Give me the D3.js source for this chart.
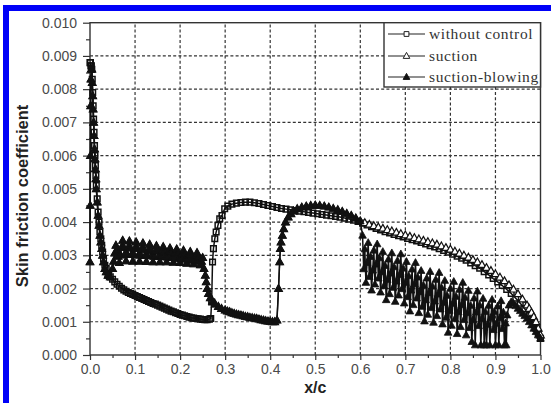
<!DOCTYPE html>
<html><head><meta charset="utf-8">
<script src="https://cdn.jsdelivr.net/npm/d3@7"></script>
<style>html,body{margin:0;padding:0;background:#fff;}svg{display:block;}</style>
</head><body>
<svg id="c" width="551" height="403"></svg>
<script>
// ---------- data (x/c, Cf) ----------
const xTickValues = [0,0.1,0.2,0.3,0.4,0.5,0.6,0.7,0.8,0.9,1.0];
const yTickValues = [0,0.001,0.002,0.003,0.004,0.005,0.006,0.007,0.008,0.009,0.010];
const seriesNames = ["without control","suction","suction-blowing"];

const withoutControl = [
[0,0.0088],[0.001,0.0088],[0.002,0.0087],[0.003,0.0087],[0.004,0.0086],[0.005,0.0083],[0.006,0.0079],[0.007,0.0075],[0.008,0.0071],[0.009,0.0067],[0.010,0.0063],[0.011,0.006],[0.012,0.0057],[0.013,0.0054],[0.014,0.0051],[0.016,0.0047],[0.018,0.0043],[0.020,0.004],[0.022,0.0037],[0.024,0.0035],[0.026,0.0033],[0.028,0.0031],[0.030,0.0029],[0.033,0.0027],[0.036,0.0026],
[0.040,0.0024],[0.045,0.00235],[0.050,0.00228],[0.055,0.0022],[0.060,0.00213],[0.065,0.00207],[0.070,0.00201],[0.075,0.00196],[0.080,0.00192],[0.085,0.00188],[0.090,0.00185],[0.095,0.00182],[0.100,0.00179],[0.105,0.00176],[0.110,0.00173],[0.115,0.0017],[0.120,0.00167],[0.125,0.00164],[0.130,0.00161],[0.135,0.00158],[0.140,0.00155],[0.145,0.00153],[0.150,0.0015],[0.155,0.00147],[0.160,0.00144],[0.165,0.00141],[0.170,0.00138],[0.175,0.00135],[0.180,0.00132],[0.185,0.0013],[0.190,0.00127],[0.195,0.00125],[0.200,0.00122],[0.205,0.0012],[0.210,0.00118],[0.215,0.00116],[0.220,0.00114],[0.225,0.00112],[0.230,0.00111],[0.235,0.0011],[0.240,0.00109],[0.245,0.00108],[0.250,0.00107],[0.255,0.00106],[0.260,0.00106],[0.265,0.00108],[0.268,0.0011],
[0.270,0.0016],[0.272,0.0028],[0.274,0.0032],[0.277,0.0035],[0.280,0.0037],[0.284,0.0039],[0.288,0.0041],[0.293,0.0042],[0.299,0.0044],[0.306,0.00448],[0.315,0.00454],[0.325,0.00457],
[0.335,0.00459],[0.345,0.0046],[0.355,0.0046],[0.365,0.00458],[0.375,0.00456],[0.385,0.00453],[0.395,0.0045],[0.405,0.00447],[0.415,0.00444],[0.425,0.00441],[0.435,0.00439],[0.445,0.00437],[0.455,0.00435],[0.465,0.00433],[0.475,0.00431],[0.485,0.00429],[0.495,0.00427],[0.505,0.00425],[0.515,0.00423],[0.525,0.00421],[0.535,0.00419],[0.545,0.00417],[0.555,0.00415],[0.565,0.00412],[0.575,0.00409],[0.585,0.00406],[0.595,0.00402],
[0.605,0.00397],[0.615,0.00391],[0.625,0.00386],[0.635,0.00381],[0.645,0.00376],[0.655,0.00371],[0.665,0.00367],[0.675,0.00363],[0.685,0.00359],[0.695,0.00355],[0.705,0.00351],[0.715,0.00347],[0.725,0.00343],[0.735,0.00339],[0.745,0.00334],[0.755,0.00329],[0.765,0.00325],[0.775,0.0032],[0.785,0.00315],[0.795,0.00309],[0.805,0.00303],[0.815,0.00297],[0.825,0.00291],[0.835,0.00285],[0.845,0.00277],[0.855,0.00269],[0.865,0.00261],[0.875,0.00251],[0.885,0.00241],[0.895,0.0023],[0.905,0.0022],[0.915,0.00209],[0.925,0.00197],[0.935,0.00185],[0.945,0.00171],[0.955,0.00156],[0.965,0.00139],[0.975,0.0012],[0.980,0.00108],[0.985,0.00095],[0.990,0.0008],[0.995,0.00065],[1.0,0.0005]
];

// part shared by "suction" and "suction-blowing" (x/c 0 .. 0.6)
const suctionCommon = [
[0,0.0028],[0.0005,0.0045],[0.001,0.006],[0.0015,0.0075],[0.002,0.0083],[0.003,0.0086],[0.004,0.0086],[0.005,0.0082],[0.006,0.0078],[0.007,0.0074],[0.008,0.007],[0.009,0.0066],[0.010,0.0062],[0.011,0.0059],[0.012,0.0056],[0.013,0.0053],[0.014,0.005],[0.016,0.0046],[0.018,0.0042],[0.020,0.0039],[0.022,0.0036],[0.024,0.0034],[0.026,0.0032],[0.028,0.003],[0.030,0.0028],[0.033,0.0026],[0.036,0.0025],[0.040,0.0024],[0.045,0.00235],
[0.0500,0.0026],[0.0525,0.00282],[0.0550,0.00307],[0.0575,0.0033],[0.0600,0.00315],[0.0625,0.00297],[0.0650,0.00278],[0.0675,0.00301],[0.0700,0.00324],[0.0725,0.00345],
[0.0750,0.00324],[0.0775,0.00304],[0.0800,0.00283],[0.0825,0.00303],[0.0850,0.00324],[0.0875,0.00343],[0.0900,0.00322],[0.0925,0.00303],[0.0950,0.00282],[0.0975,0.00302],
[0.1000,0.00321],[0.1025,0.0034],[0.1050,0.00321],[0.1075,0.00301],[0.1100,0.00282],[0.1125,0.00301],[0.1150,0.00319],[0.1175,0.00337],[0.1200,0.00318],[0.1225,0.00299],
[0.1250,0.00281],[0.1275,0.00299],[0.1300,0.00316],[0.1325,0.00333],[0.1350,0.00315],[0.1375,0.00298],[0.1400,0.0028],[0.1425,0.00297],[0.1450,0.00313],[0.1475,0.00329],
[0.1500,0.00313],[0.1525,0.00296],[0.1550,0.0028],[0.1575,0.00296],[0.1600,0.00311],[0.1625,0.00326],[0.1650,0.0031],[0.1675,0.00295],[0.1700,0.0028],[0.1725,0.00295],
[0.1750,0.00308],[0.1775,0.00322],[0.1800,0.00308],[0.1825,0.00293],[0.1850,0.00279],[0.1875,0.00293],[0.1900,0.00306],[0.1925,0.00319],[0.1950,0.00305],[0.1975,0.00291],
[0.2000,0.00278],[0.2025,0.0029],[0.2050,0.00303],[0.2075,0.00315],[0.2100,0.00302],[0.2125,0.00289],[0.2150,0.00276],[0.2175,0.00288],[0.2200,0.003],[0.2225,0.00311],
[0.2250,0.00299],[0.2275,0.00286],[0.2300,0.00274],[0.2325,0.00285],[0.2350,0.00296],[0.2375,0.00308],[0.2400,0.00295],[0.2425,0.00283],[0.2450,0.00271],[0.2475,0.00282],[0.2500,0.00293],
[0.253,0.0026],[0.256,0.0024],[0.258,0.0022],[0.260,0.002],[0.263,0.00185],[0.267,0.00172],[0.272,0.00162],[0.278,0.00153],[0.285,0.00146],[0.292,0.0014],[0.300,0.00135],[0.305,0.00132],[0.310,0.0013],[0.315,0.00127],[0.320,0.00125],[0.325,0.00123],[0.330,0.00121],[0.335,0.0012],[0.340,0.00118],[0.345,0.00116],[0.350,0.00115],[0.355,0.00113],[0.360,0.00112],[0.365,0.00111],[0.370,0.0011],[0.375,0.00108],[0.380,0.00106],[0.385,0.00105],[0.390,0.00103],[0.395,0.00102],[0.400,0.00101],[0.405,0.001],[0.410,0.001],[0.415,0.00105],
[0.4185,0.002],[0.421,0.0028],[0.4225,0.0032],[0.424,0.0034],[0.427,0.0036],[0.430,0.0038],[0.434,0.004],[0.440,0.00415],[0.446,0.00425],[0.452,0.00433],[0.460,0.0044],[0.470,0.00445],[0.480,0.00448],[0.490,0.0045],[0.500,0.00451],[0.510,0.0045],[0.520,0.00448],[0.530,0.00445],[0.540,0.00441],[0.550,0.00437],[0.560,0.00432],[0.570,0.00426],[0.580,0.0042],[0.590,0.00412],[0.600,0.00403]
];

const suctionTail = [
[0.61,0.00398],[0.62,0.00393],[0.63,0.00389],[0.64,0.00385],[0.65,0.00381],[0.66,0.00377],[0.67,0.00373],[0.68,0.00369],[0.69,0.00365],[0.70,0.00361],[0.71,0.00357],[0.72,0.00353],[0.73,0.00349],[0.74,0.00345],[0.75,0.00341],[0.76,0.00337],[0.77,0.00333],[0.78,0.00328],[0.79,0.00323],[0.80,0.00318],[0.81,0.00312],[0.82,0.00306],[0.83,0.003],[0.84,0.00294],[0.85,0.00287],[0.86,0.0028],[0.87,0.00272],[0.88,0.00263],[0.89,0.00254],[0.90,0.00244],[0.91,0.00234],[0.92,0.00223],[0.93,0.00211],[0.94,0.00198],[0.95,0.00184],[0.96,0.00168],[0.97,0.0015],[0.975,0.0014],[0.98,0.00128],[0.985,0.00115],[0.99,0.001],[0.995,0.0008],[1.0,0.0006]
];

const blowingTail = [
[0.605,0.0036],[0.6075,0.00259],[0.610,0.00319],[0.6125,0.00218],[0.615,0.00278],[0.6175,0.00338],[0.620,0.00236],[0.6225,0.00296],[0.625,0.00195],[0.6275,0.00255],
[0.630,0.00315],[0.6325,0.00213],[0.635,0.00273],[0.6375,0.00334],[0.640,0.00231],[0.6425,0.00292],[0.645,0.00189],[0.6475,0.0025],[0.650,0.00311],[0.6525,0.00208],
[0.655,0.00269],[0.6575,0.00166],[0.660,0.00227],[0.6625,0.00288],[0.665,0.00184],[0.6675,0.00246],[0.670,0.00307],[0.6725,0.00203],[0.675,0.00265],[0.6775,0.00161],
[0.680,0.00222],[0.6825,0.00284],[0.685,0.0018],[0.6875,0.00242],[0.690,0.00304],[0.6925,0.00199],[0.695,0.00261],[0.6975,0.00156],[0.700,0.00218],[0.7025,0.00281],
[0.705,0.00175],[0.7075,0.00238],[0.710,0.00132],[0.7125,0.00195],[0.715,0.00258],[0.7175,0.00151],[0.720,0.00214],[0.7225,0.00278],[0.725,0.00171],[0.7275,0.00234],
[0.730,0.00127],[0.7325,0.0019],[0.735,0.00254],[0.7375,0.00146],[0.740,0.0021],[0.7425,0.00102],[0.745,0.00166],[0.7475,0.00231],[0.750,0.00122],[0.7525,0.00187],
[0.755,0.00251],[0.7575,0.00142],[0.760,0.00207],[0.7625,0.00098],[0.765,0.00162],[0.7675,0.00227],[0.770,0.00118],[0.7725,0.00183],[0.775,0.00248],[0.7775,0.00138],
[0.780,0.00203],[0.7825,0.00093],[0.785,0.00158],[0.7875,0.00224],[0.790,0.00113],[0.7925,0.00179],[0.795,0.00068],[0.7975,0.00134],[0.800,0.002],[0.8025,0.00089],
[0.805,0.00155],[0.8075,0.00221],[0.810,0.00109],[0.8125,0.00176],[0.815,0.00064],[0.8175,0.0013],[0.820,0.00197],[0.8225,0.00085],[0.825,0.00151],[0.8275,0.00218],
[0.830,0.00106],[0.8325,0.00173],[0.835,0.0006],[0.8375,0.00127],[0.840,0.00194],[0.8425,0.00082],[0.845,0.00149],[0.8475,0.0004],[0.850,0.00106],[0.8525,0.00171],
[0.855,0.0003],[0.8575,0.00129],[0.860,0.00192],[0.8625,0.00088],[0.865,0.0015],[0.8675,0.0003],[0.870,0.0011],[0.8725,0.0017],[0.875,0.0003],[0.8775,0.0013],
[0.880,0.0003],[0.8825,0.00092],[0.885,0.00149],[0.8875,0.0003],[0.890,0.00112],[0.8925,0.00167],[0.895,0.00076],[0.8975,0.0013],[0.900,0.0003],[0.9025,0.00095],
[0.905,0.00147],[0.9075,0.0003],[0.910,0.00112],[0.9125,0.00163],[0.915,0.00079],[0.9175,0.00129],[0.920,0.0003],[0.9225,0.00096],
[0.924,0.0003],[0.926,0.0012],[0.930,0.0015],[0.935,0.0016],[0.940,0.00155],[0.945,0.00148],[0.950,0.0014],[0.955,0.00133],[0.960,0.00125],[0.965,0.00118],[0.970,0.0011],[0.975,0.001],[0.980,0.0009],[0.985,0.0008],[0.990,0.0007],[0.995,0.0006],[1.0,0.0005]
];

const suction = suctionCommon.concat(suctionTail);
const suctionBlowing = suctionCommon.concat(blowingTail);

// ---------- layout ----------
const svg = d3.select("#c");
const X0 = 90, X1 = 540.5, Y0 = 355, Y1 = 22.7;
const x = d3.scaleLinear().domain([0,1]).range([X0,X1]);
const y = d3.scaleLinear().domain([0,0.010]).range([Y0,Y1]);

// blue frame
svg.append("rect").attr("x",3).attr("y",5).attr("width",6).attr("height",398).attr("fill","#0000f8");
svg.append("rect").attr("x",3).attr("y",5).attr("width",548).attr("height",6).attr("fill","#0000f8");

// grid
const grid = svg.append("g").attr("stroke","#333").attr("stroke-width",1.2).attr("stroke-dasharray","3,2.2");
grid.selectAll("line.v").data(xTickValues.slice(1,-1)).join("line")
  .attr("x1",d=>x(d)).attr("x2",d=>x(d)).attr("y1",Y0).attr("y2",Y1);
grid.selectAll("line.h").data(yTickValues.slice(1,-1)).join("line")
  .attr("x1",X0).attr("x2",X1).attr("y1",d=>y(d)).attr("y2",d=>y(d));

// axes
const fmtX = d3.format(".1f"), fmtY = d3.format(".3f");
const xAxis = d3.axisBottom(x).tickValues(xTickValues).tickFormat(fmtX).tickSize(5).tickPadding(4);
const yAxis = d3.axisLeft(y).tickValues(yTickValues).tickFormat(fmtY).tickSize(7).tickPadding(6);
const gx = svg.append("g").attr("transform",`translate(0,${Y0})`).call(xAxis);
const gy = svg.append("g").attr("transform",`translate(${X0},0)`).call(yAxis);
[gx,gy].forEach(g=>{
  g.select(".domain").remove();
  g.selectAll("line").attr("stroke","#333").attr("stroke-width",1.2);
  g.selectAll("text").attr("fill","#4a4a4a").style("font-family","Arial, 'Liberation Sans', sans-serif").style("font-size","14px");
});
// minor ticks
const xMinor = d3.axisBottom(x).tickValues([0.05,0.15,0.25,0.35,0.45,0.55,0.65,0.75,0.85,0.95]).tickFormat("").tickSize(3);
const yMinor = d3.axisLeft(y).tickValues([0.0005,0.0015,0.0025,0.0035,0.0045,0.0055,0.0065,0.0075,0.0085,0.0095]).tickFormat("").tickSize(4);
[svg.append("g").attr("transform",`translate(0,${Y0})`).call(xMinor), svg.append("g").attr("transform",`translate(${X0},0)`).call(yMinor)].forEach(g=>{
  g.select(".domain").remove();
  g.selectAll("line").attr("stroke","#333").attr("stroke-width",1.2);
});

// frame
svg.append("rect").attr("x",X0).attr("y",Y1).attr("width",X1-X0).attr("height",Y0-Y1)
  .attr("fill","none").attr("stroke","#333").attr("stroke-width",1.4);

// series
const line = d3.line().x(d=>x(d[0])).y(d=>y(d[1]));
const triPath = "M0,-4L3.8,2.8L-3.8,2.8Z";
const sqPath = "M-2.8,-2.8H2.8V2.8H-2.8Z";
function drawSeries(data, kind){
  const g = svg.append("g");
  g.append("path").datum(data).attr("d",line).attr("fill","none").attr("stroke","#111").attr("stroke-width",kind==="open"?1.3:1.5);
  const m = g.selectAll("path.m").data(data).join("path").attr("class","m")
    .attr("transform",d=>`translate(${x(d[0])},${y(d[1])})`);
  if(kind==="square"){
    m.attr("d",sqPath).attr("fill","none").attr("stroke","#111").attr("stroke-width",1.5);
  } else if(kind==="open"){
    m.attr("d",triPath).attr("fill","#fff").attr("stroke","#111").attr("stroke-width",1.2);
  } else {
    m.attr("d",triPath).attr("fill","#111").attr("stroke","#111").attr("stroke-width",0.8);
  }
}
drawSeries(withoutControl,"square");
drawSeries(suction,"open");
drawSeries(suctionBlowing,"filled");

// axis titles
svg.append("text").attr("x",x(0.5)).attr("y",393).attr("text-anchor","middle")
  .style("font-family","Arial, 'Liberation Sans', sans-serif").style("font-size","16px").style("font-weight","bold").attr("fill","#222").text("x/c");
svg.append("text").attr("transform","translate(28,196) rotate(-90)").attr("text-anchor","middle")
  .style("font-family","Arial, 'Liberation Sans', sans-serif").style("font-size","16.5px").style("font-weight","bold").attr("fill","#222").text("Skin friction coefficient");

// legend
const LX0 = 384, LY0 = Y1, LX1 = X1, LY1 = 87;
svg.append("rect").attr("x",LX0).attr("y",LY0).attr("width",LX1-LX0).attr("height",LY1-LY0)
  .attr("fill","#fff").attr("stroke","#333").attr("stroke-width",1.4);
const kinds = ["square","open","filled"];
const rowY = [34,56,77];
seriesNames.forEach((name,i)=>{
  const g = svg.append("g").attr("transform",`translate(0,${rowY[i]})`);
  g.append("line").attr("x1",388).attr("x2",425).attr("y1",0).attr("y2",0).attr("stroke","#222").attr("stroke-width",1.2);
  const mk = g.append("path").attr("transform","translate(406.5,0)");
  if(kinds[i]==="square") mk.attr("d","M-2.4,-2.4H2.4V2.4H-2.4Z").attr("fill","#fff").attr("stroke","#222");
  else if(kinds[i]==="open") mk.attr("d","M0,-3.6L3.3,2.4L-3.3,2.4Z").attr("fill","#fff").attr("stroke","#222");
  else mk.attr("d","M0,-3.6L3.3,2.4L-3.3,2.4Z").attr("fill","#111").attr("stroke","#111");
  g.append("text").attr("x",429).attr("y",5).style("font-family","'Liberation Serif', 'Times New Roman', serif")
    .style("font-size","15.5px").style("letter-spacing","0.6px").attr("fill","#333").text(name);
});
</script>
</body></html>
